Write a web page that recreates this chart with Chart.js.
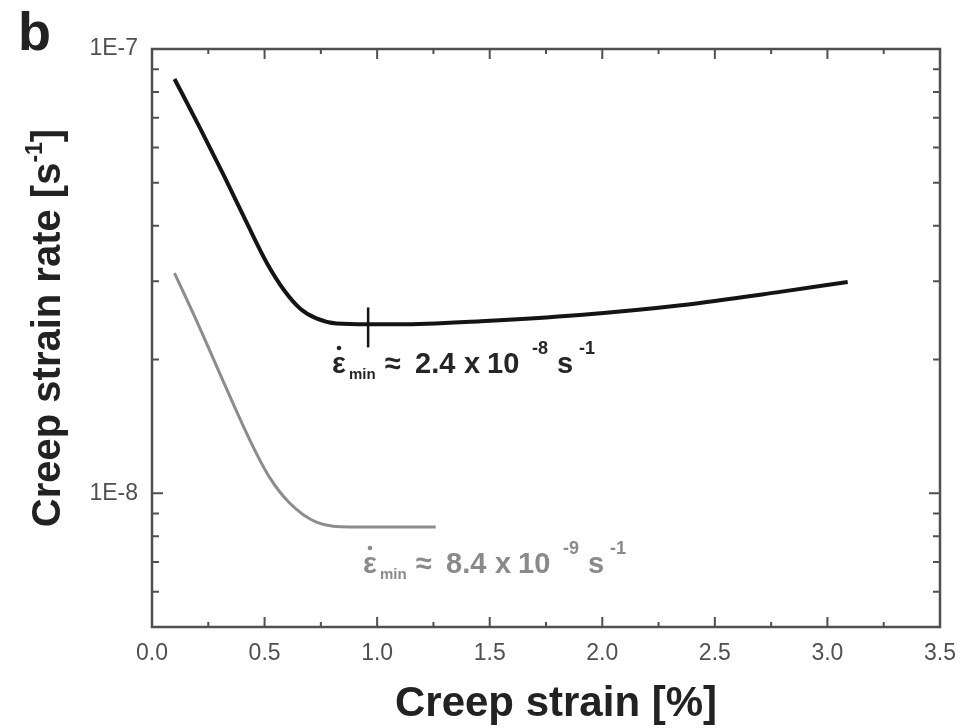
<!DOCTYPE html>
<html>
<head>
<meta charset="utf-8">
<title>Creep strain rate</title>
<script src="https://cdn.jsdelivr.net/npm/chart.js@4.4.1/dist/chart.umd.min.js"></script>
<style>
  html, body { margin: 0; padding: 0; background: #fff; }
  #wrap { width: 961px; height: 728px; }
</style>
</head>
<body>
<div id="wrap"><canvas id="creepChart" width="961" height="728"></canvas></div>
<script>
// Higher-stress test (black) and lower-stress test (grey)
const blackStrain = [0.10, 0.21, 0.32, 0.42, 0.51, 0.59, 0.66, 0.73, 0.82, 0.96, 1.10, 1.46, 1.90, 2.35, 2.79, 3.09];
const blackRate = [8.56e-8, 6.69e-8, 5.18e-8, 4.07e-8, 3.30e-8, 2.85e-8, 2.60e-8, 2.475e-8, 2.41e-8, 2.40e-8, 2.40e-8, 2.44e-8, 2.52e-8, 2.65e-8, 2.84e-8, 2.99e-8];

const grayStrain = [0.10, 0.21, 0.32, 0.44, 0.52, 0.61, 0.73, 0.88, 1.01, 1.26];
const grayRate = [3.13e-8, 2.37e-8, 1.77e-8, 1.30e-8, 1.09e-8, 9.52e-9, 8.61e-9, 8.40e-9, 8.40e-9, 8.40e-9];

// short vertical marker at the minimum creep rate
const minMarkStrain = [0.96, 0.96];
const minMarkRate = [2.13e-8, 2.62e-8];

const xTickValues = [0, 0.5, 1.0, 1.5, 2.0, 2.5, 3.0, 3.5];
const xMinorTicks = [0.25, 0.75, 1.25, 1.75, 2.25, 2.75, 3.25];
const yTickValues = [1e-8, 1e-7];
const yTickLabels = ['1E-8', '1E-7'];
const yMinorTicks = [6e-9, 7e-9, 8e-9, 9e-9, 2e-8, 3e-8, 4e-8, 5e-8, 6e-8, 7e-8, 8e-8, 9e-8];

const FONT = "'Liberation Sans', Arial, sans-serif";

function toPoints(xs, ys) {
    return xs.map((v, i) => ({ x: v, y: ys[i] }));
}

// Box frame with inward ticks on all four sides, plus titles and labels
const framePlugin = {
    id: 'frame',
    afterDatasetsDraw(chart) {
        const ctx = chart.ctx;
        const a = chart.chartArea;
        const xs = chart.scales.x;
        const ys = chart.scales.y;

        ctx.save();
        ctx.strokeStyle = '#505050';
        ctx.lineWidth = 2.5;
        ctx.strokeRect(a.left, a.top, a.right - a.left, a.bottom - a.top);

        ctx.lineWidth = 2;
        ctx.beginPath();
        function xTick(v, len) {
            const px = xs.getPixelForValue(v);
            ctx.moveTo(px, a.bottom); ctx.lineTo(px, a.bottom - len);
            ctx.moveTo(px, a.top); ctx.lineTo(px, a.top + len);
        }
        function yTick(v, len) {
            const py = ys.getPixelForValue(v);
            ctx.moveTo(a.left, py); ctx.lineTo(a.left + len, py);
            ctx.moveTo(a.right, py); ctx.lineTo(a.right - len, py);
        }
        xTickValues.forEach(v => xTick(v, 10));
        xMinorTicks.forEach(v => xTick(v, 5));
        yTickValues.forEach(v => yTick(v, 11));
        yMinorTicks.forEach(v => yTick(v, 7));
        ctx.stroke();
        ctx.restore();
    },
    afterDraw(chart) {
        const ctx = chart.ctx;
        ctx.save();

        // panel letter
        ctx.fillStyle = '#222';
        ctx.font = 'bold 54px ' + FONT;
        ctx.textBaseline = 'alphabetic';
        ctx.fillText('b', 18, 50);

        // x axis title
        ctx.font = 'bold 42px ' + FONT;
        ctx.textAlign = 'center';
        ctx.fillText('Creep strain [%]', 556, 716);

        // y axis title with superscript
        ctx.translate(60, 328);
        ctx.rotate(-Math.PI / 2);
        ctx.textAlign = 'left';
        const main = 'Creep strain rate [s';
        ctx.font = 'bold 40px ' + FONT;
        const wMain = ctx.measureText(main).width;
        ctx.font = 'bold 23px ' + FONT;
        const wSup = ctx.measureText('-1').width;
        ctx.font = 'bold 40px ' + FONT;
        const wEnd = ctx.measureText(']').width;
        let cx = -(wMain + wSup + wEnd) / 2;
        ctx.fillText(main, cx, 0);
        cx += wMain;
        ctx.font = 'bold 23px ' + FONT;
        ctx.fillText('-1', cx, -18);
        cx += wSup;
        ctx.font = 'bold 40px ' + FONT;
        ctx.fillText(']', cx, 0);
        ctx.restore();

        drawRateLabel(ctx, 332, 373, '#262626', '2.4', '-8');
        drawRateLabel(ctx, 363, 573, '#8a8a8a', '8.4', '-9');
    }
};

// "ε̇min ≈ m x 10^e s^-1", pieces placed at fixed offsets from x
function drawRateLabel(ctx, x, base, color, mant, exp) {
    ctx.save();
    ctx.fillStyle = color;
    ctx.textAlign = 'left';
    ctx.textBaseline = 'alphabetic';
    const big = 'bold 29px ' + FONT;
    const small = 'bold 15px ' + FONT;
    const sup = 'bold 18px ' + FONT;

    ctx.font = big;
    ctx.fillText('\u03b5', x, base);
    ctx.beginPath();
    ctx.arc(x + 7, base - 25, 2.3, 0, Math.PI * 2);
    ctx.fill();

    ctx.font = small;
    ctx.fillText('min', x + 17, base + 6);

    ctx.font = big;
    ctx.fillText('\u2248', x + 53, base);
    ctx.fillText(mant, x + 83, base);
    ctx.fillText('x', x + 132, base);
    ctx.fillText('10', x + 155, base);
    ctx.fillText('s', x + 225, base);

    ctx.font = sup;
    ctx.fillText(exp, x + 200, base - 19);
    ctx.fillText('-1', x + 247, base - 19);
    ctx.restore();
}

const ctx = document.getElementById('creepChart').getContext('2d');
const creepChart = new Chart(ctx, {
    type: 'line',
    data: {
        datasets: [{
            label: 'black',
            data: toPoints(blackStrain, blackRate),
            borderColor: '#141414',
            borderWidth: 4,
            pointRadius: 0,
            cubicInterpolationMode: 'monotone',
            fill: false
        }, {
            label: 'grey',
            data: toPoints(grayStrain, grayRate),
            borderColor: '#8c8c8c',
            borderWidth: 3,
            pointRadius: 0,
            cubicInterpolationMode: 'monotone',
            fill: false
        }, {
            label: 'min',
            data: toPoints(minMarkStrain, minMarkRate),
            borderColor: '#141414',
            borderWidth: 2.5,
            pointRadius: 0,
            fill: false
        }]
    },
    options: {
        responsive: false,
        animation: false,
        devicePixelRatio: 1,
        layout: {
            padding: { left: 0, top: 49, right: 21, bottom: 0 }
        },
        plugins: {
            legend: { display: false },
            tooltip: { enabled: false }
        },
        scales: {
            x: {
                type: 'linear',
                min: 0,
                max: 3.5,
                grid: { display: false },
                border: { display: false },
                afterBuildTicks: axis => {
                    axis.ticks = xTickValues.map(v => ({ value: v }));
                },
                afterFit: axis => {
                    axis.height = 101;
                    axis.paddingLeft = 0;
                    axis.paddingRight = 0;
                },
                ticks: {
                    padding: 5,
                    color: '#505050',
                    font: { family: FONT, size: 23 },
                    callback: v => v.toFixed(1)
                }
            },
            y: {
                type: 'logarithmic',
                min: 5e-9,
                max: 1e-7,
                grid: { display: false },
                border: { display: false },
                afterBuildTicks: axis => {
                    axis.ticks = yTickValues.map(v => ({ value: v }));
                },
                afterFit: axis => {
                    axis.width = 152;
                    axis.paddingTop = 0;
                    axis.paddingBottom = 0;
                },
                ticks: {
                    padding: 6,
                    color: '#505050',
                    font: { family: FONT, size: 23 },
                    callback: v => yTickLabels[yTickValues.indexOf(v)]
                }
            }
        }
    },
    plugins: [framePlugin]
});
</script>
</body>
</html>
